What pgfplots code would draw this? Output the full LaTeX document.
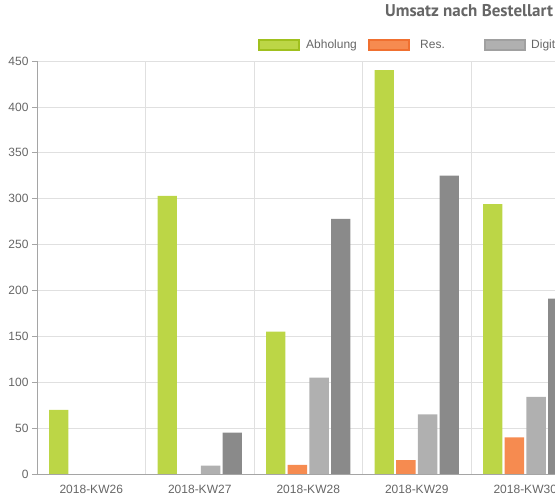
\documentclass[border=0pt]{standalone}
\usepackage{fontspec}
\setmainfont{Liberation Sans}
\newfontfamily\titlefont{PT Sans}
\usepackage{pgfplots}
\pgfplotsset{compat=1.18}

\definecolor{cgreen}{RGB}{188,214,70}
\definecolor{cgreenD}{RGB}{160,192,30}
\definecolor{corange}{RGB}{246,139,80}
\definecolor{corangeD}{RGB}{240,112,48}
\definecolor{clgray}{RGB}{176,176,176}
\definecolor{clgrayD}{RGB}{160,160,160}
\definecolor{cdgray}{RGB}{138,138,138}
\definecolor{cgrid}{RGB}{224,224,224}
\definecolor{caxis}{RGB}{165,165,165}
\definecolor{ctext}{RGB}{102,102,102}

\begin{document}
\begin{tikzpicture}
\path[use as bounding box, clip] (0,0) rectangle (555pt,500pt);
\node[anchor=base west, text=ctext, inner sep=0pt,
      font=\titlefont\bfseries\fontsize{17}{19}\selectfont] at (385pt,483pt) {Umsatz nach Bestellart};
\begin{axis}[
    at={(37pt,26pt)}, anchor=south west,
    scale only axis, width=542.5pt, height=413pt,
    xmin=-0.5, xmax=4.5, ymin=0, ymax=450,
    ybar, bar width=0.178,
    axis x line*=bottom, axis y line*=left,
    axis line style={caxis, line width=0.8pt},
    xtick={0,1,2,3,4},
    xticklabels={2018-KW26,2018-KW27,2018-KW28,2018-KW29,2018-KW30},
    minor xtick={-0.5,0.5,1.5,2.5,3.5,4.5},
    ytick={0,50,...,450},
    ymajorgrids, xminorgrids,
    grid style={cgrid, line width=0.6pt},
    minor grid style={cgrid, line width=0.6pt},
    tick align=outside,
    major tick length=5pt, minor tick length=10pt,
    xtick style={draw=none},
    ytick style={caxis, line width=0.6pt},
    minor x tick style={cgrid, line width=0.6pt},
    ticklabel style={font=\fontsize{12}{14}\selectfont, text=ctext},
    xticklabel style={yshift=-3pt},
    /pgf/number format/assume math mode=true,
    legend style={at={(0.4074,1.0387)}, anchor=west, draw=none, fill=none,
        inner sep=0pt, font=\fontsize{12}{14}\selectfont,
        nodes={inner sep=0pt, text=ctext},
        /tikz/every even column/.style={column sep=0pt}},
    legend columns=-1,
    legend cell align=left,
]
\addplot[fill=cgreen, draw=none, bar shift=-0.3,
    legend image code/.code={\draw[line width=2pt, draw=cgreenD, fill=cgreen] (1pt,-5pt) rectangle (41pt,5pt);}]
    coordinates {(0,70) (1,303) (2,155) (3,440) (4,294)};
\addlegendentry{\hspace{6pt}\makebox[62pt][l]{Abholung}}
\addplot[fill=corange, draw=none, bar shift=-0.1,
    legend image code/.code={\draw[line width=2pt, draw=corangeD, fill=corange] (1pt,-5pt) rectangle (41pt,5pt);}]
    coordinates {(2,10) (3,15) (4,40)};
\addlegendentry{\hspace{10pt}\makebox[64pt][l]{Res.}}
\addplot[fill=clgray, draw=none, bar shift=0.1,
    legend image code/.code={\draw[line width=2pt, draw=clgrayD, fill=clgray] (1pt,-5pt) rectangle (41pt,5pt);}]
    coordinates {(1,9) (2,105) (3,65) (4,84)};
\addlegendentry{\hspace{5pt}Digital}
\addplot[fill=cdgray, draw=none, bar shift=0.3, forget plot]
    coordinates {(1,45) (2,278) (3,325) (4,191)};
\end{axis}
\end{tikzpicture}
\end{document}
